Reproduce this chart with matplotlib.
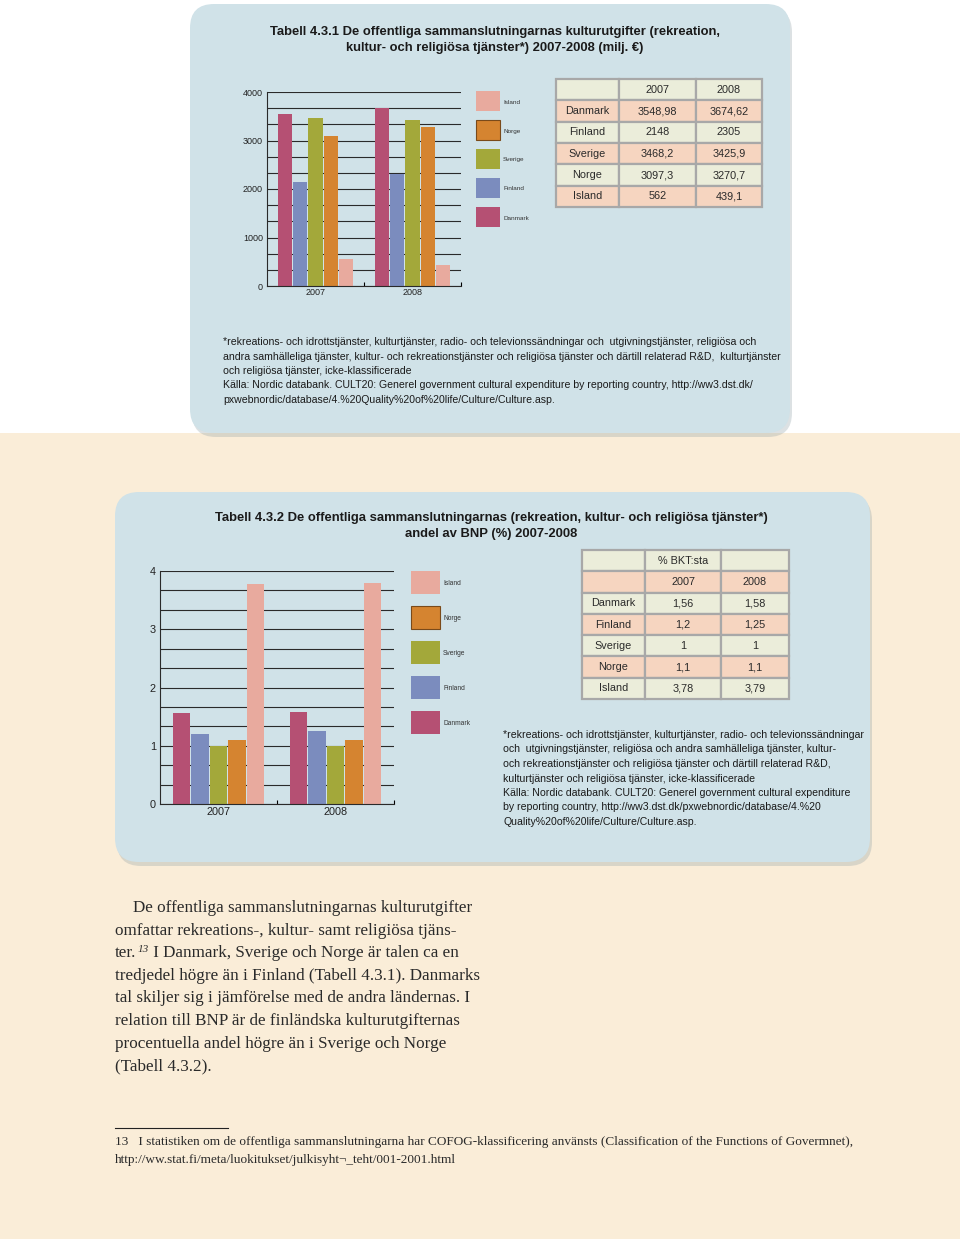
import matplotlib.pyplot as plt
from matplotlib.patches import FancyBboxPatch, Rectangle
from matplotlib.ticker import MultipleLocator, FixedLocator
import numpy as np

# data
countries = ["Danmark", "Finland", "Sverige", "Norge", "Island"]
colors = ["#B55073", "#7B8CBE", "#A3A83A", "#D58430", "#E8AA9E"]
years = ["2007", "2008"]
spend_2007 = [3548.98, 2148, 3468.2, 3097.3, 562]
spend_2008 = [3674.62, 2305, 3425.9, 3270.7, 439.1]
bnp_2007 = [1.56, 1.2, 1, 1.1, 3.78]
bnp_2008 = [1.58, 1.25, 1, 1.1, 3.79]

title1 = ["Tabell 4.3.1 De offentliga sammanslutningarnas kulturutgifter (rekreation,",
          "kultur- och religiösa tjänster*) 2007-2008 (milj. €)"]
title2 = ["Tabell 4.3.2 De offentliga sammanslutningarnas (rekreation, kultur- och religiösa tjänster*)",
          "andel av BNP (%) 2007-2008"]
notes1 = ["*rekreations- och idrottstjänster, kulturtjänster, radio- och televionssändningar och  utgivningstjänster, religiösa och",
          "andra samhälleliga tjänster, kultur- och rekreationstjänster och religiösa tjänster och därtill relaterad R&D,  kulturtjänster",
          "och religiösa tjänster, icke-klassificerade",
          "Källa: Nordic databank. CULT20: Generel government cultural expenditure by reporting country, http://ww3.dst.dk/",
          "pxwebnordic/database/4.%20Quality%20of%20life/Culture/Culture.asp."]
notes2 = ["*rekreations- och idrottstjänster, kulturtjänster, radio- och televionssändningar",
          "och  utgivningstjänster, religiösa och andra samhälleliga tjänster, kultur-",
          "och rekreationstjänster och religiösa tjänster och därtill relaterad R&D,",
          "kulturtjänster och religiösa tjänster, icke-klassificerade",
          "Källa: Nordic databank. CULT20: Generel government cultural expenditure",
          "by reporting country, http://ww3.dst.dk/pxwebnordic/database/4.%20",
          "Quality%20of%20life/Culture/Culture.asp."]
body = ["De offentliga sammanslutningarnas kulturutgifter",
        "omfattar rekreations-, kultur- samt religiösa tjäns-",
        ("ter.", "13", " I Danmark, Sverige och Norge är talen ca en"),
        "tredjedel högre än i Finland (Tabell 4.3.1). Danmarks",
        "tal skiljer sig i jämförelse med de andra ländernas. I",
        "relation till BNP är de finländska kulturutgifternas",
        "procentuella andel högre än i Sverige och Norge",
        "(Tabell 4.3.2)."]
footnote = ["13   I statistiken om de offentliga sammanslutningarna har COFOG-klassificering använsts (Classification of the Functions of Govermnet),",
            "http://ww.stat.fi/meta/luokitukset/julkisyht¬_teht/001-2001.html"]

CREAM = "#FAEDD8"
PANEL = "#D0E2E8"
PEACH = "#F6D5C0"
LIGHT = "#EBEDDA"
SANS = "Liberation Sans"
SERIF = "Liberation Serif"
plt.rcParams["font.family"] = SANS

W, H = 960, 1239
fig = plt.figure(figsize=(9.6, 12.39), dpi=100)
bg = fig.add_axes([0, 0, 1, 1])
bg.set_xlim(0, W)
bg.set_ylim(H, 0)
bg.axis("off")


def fax(x0, y0, x1, y1):
    return [x0 / W, 1 - y1 / H, (x1 - x0) / W, (y1 - y0) / H]


def fmt(v):
    return f"{v:g}".replace(".", ",")


def panel(x0, y0, x1, y1):
    bg.add_patch(FancyBboxPatch((x0 + 2, y0 + 4), x1 - x0, y1 - y0,
                                boxstyle="round,pad=0,rounding_size=24",
                                fc="#8c9ea5", ec="none", alpha=0.3))
    bg.add_patch(FancyBboxPatch((x0, y0), x1 - x0, y1 - y0,
                                boxstyle="round,pad=0,rounding_size=24",
                                fc=PANEL, ec="none"))


def bars(rect, v07, v08, ymax, fs, ypad, xpad):
    ax = fig.add_axes(rect)
    ax.set_facecolor("none")
    x = np.array([0.5, 1.5])
    step, w = 0.158, 0.147
    for i, col in enumerate(colors):
        ax.bar(x + (i - 2) * step, [v07[i], v08[i]], w, color=col, zorder=2)
    ax.set_xlim(0, 2)
    ax.set_ylim(0, ymax)
    ax.yaxis.set_major_locator(MultipleLocator(ymax / 4))
    ax.yaxis.set_minor_locator(MultipleLocator(ymax / 12))
    ax.grid(axis="y", which="both", color="#2a2a2a", lw=0.8, zorder=1)
    ax.set_axisbelow(True)
    ax.set_xticks(x, years)
    ax.xaxis.set_minor_locator(FixedLocator([1, 2]))
    ax.tick_params(axis="y", which="both", length=0, labelsize=fs, pad=ypad, labelcolor="#222")
    ax.tick_params(axis="x", which="major", length=0, labelsize=fs, pad=xpad, labelcolor="#222")
    ax.tick_params(axis="x", which="minor", length=3, direction="in", width=0.8)
    for s in ["top", "right"]:
        ax.spines[s].set_visible(False)
    for s in ["left", "bottom"]:
        ax.spines[s].set_linewidth(0.8)
        ax.spines[s].set_color("#2a2a2a")
    return ax


def legend(x0, yc, w, h, step, fs):
    for i, (name, col) in enumerate(zip(countries[::-1], colors[::-1])):
        y = yc + i * step
        bg.add_patch(Rectangle((x0, y - h / 2), w, h, fc=col,
                               ec="#7a4a1a" if name == "Norge" else "none", lw=0.8))
        bg.text(x0 + w + 3, y + 1.5, name, fontsize=fs, va="center", color="#333")


def table(rect, rows, colw, fills):
    ax = fig.add_axes(rect)
    ax.axis("off")
    cc = [[f] * 3 for f in fills]
    t = ax.table(cellText=rows, cellColours=cc, cellLoc="center",
                 colWidths=colw, bbox=[0, 0, 1, 1])
    t.auto_set_font_size(False)
    t.set_fontsize(7.8)
    for cell in t.get_celld().values():
        cell.set_edgecolor("#A8A8A8")
        cell.set_linewidth(1.6)
        cell.get_text().set_color("#2a2a2a")


# backgrounds
bg.add_patch(Rectangle((0, 433), W, H - 433, fc=CREAM, ec="none"))
panel(190, 4, 790, 433)
panel(115, 492, 870, 862)

# panel 1
for i, line in enumerate(title1):
    bg.text(495, 32 + 16 * i, line, fontsize=9.4, fontweight="bold", ha="center", va="center", color="#1a1a1a")
bars(fax(267, 92, 461, 286), spend_2007, spend_2008, 4000, 6.5, 3, 1.5)
legend(476, 100.5, 24, 20, 29, 4.6)
rows1 = [["", *years]] + [[c, fmt(a), fmt(b)] for c, a, b in zip(countries, spend_2007, spend_2008)]
table(fax(556, 79, 762, 207), rows1, [63, 77, 66], [LIGHT, PEACH, LIGHT, PEACH, LIGHT, PEACH])
for i, line in enumerate(notes1):
    bg.text(223, 342 + 14.5 * i, line, fontsize=7.6, va="center", color="#1a1a1a")

# panel 2
for i, line in enumerate(title2):
    bg.text(491, 518 + 16 * i, line, fontsize=9.4, fontweight="bold", ha="center", va="center", color="#1a1a1a")
bars(fax(160, 571, 394, 804), bnp_2007, bnp_2008, 4, 7.8, 3, 2.5)
legend(411, 582, 29, 23, 35, 4.8)
rows2 = [["", "% BKT:sta", ""], ["", *years]] + [[c, fmt(a), fmt(b)] for c, a, b in zip(countries, bnp_2007, bnp_2008)]
table(fax(582, 550, 789, 699), rows2, [63, 76, 68], [LIGHT, PEACH, LIGHT, PEACH, LIGHT, PEACH, LIGHT])
for i, line in enumerate(notes2):
    bg.text(503, 735 + 14.5 * i, line, fontsize=7.6, va="center", color="#1a1a1a")

# body text
BODY_FS = 12.3
fig.canvas.draw()
rend = fig.canvas.get_renderer()
for i, line in enumerate(body):
    y = 908 + 22.6 * i
    x = 133 if i == 0 else 115
    if isinstance(line, tuple):
        t = bg.text(x, y, line[0], fontsize=BODY_FS, family=SERIF, va="center", color="#2a2a2a")
        x += t.get_window_extent(rend).width
        t = bg.text(x + 1, y - 4, line[1], fontsize=8, family=SERIF, style="italic", va="center", color="#2a2a2a")
        x += t.get_window_extent(rend).width + 1
        bg.text(x, y, line[2], fontsize=BODY_FS, family=SERIF, va="center", color="#2a2a2a")
    else:
        bg.text(x, y, line, fontsize=BODY_FS, family=SERIF, va="center", color="#2a2a2a")

bg.plot([115, 228], [1128, 1128], color="#222", lw=0.8)
for i, line in enumerate(footnote):
    bg.text(115, 1142 + 18 * i, line, fontsize=9.5, family=SERIF, va="center", color="#2a2a2a")

fig.savefig("out.png", dpi=100)
